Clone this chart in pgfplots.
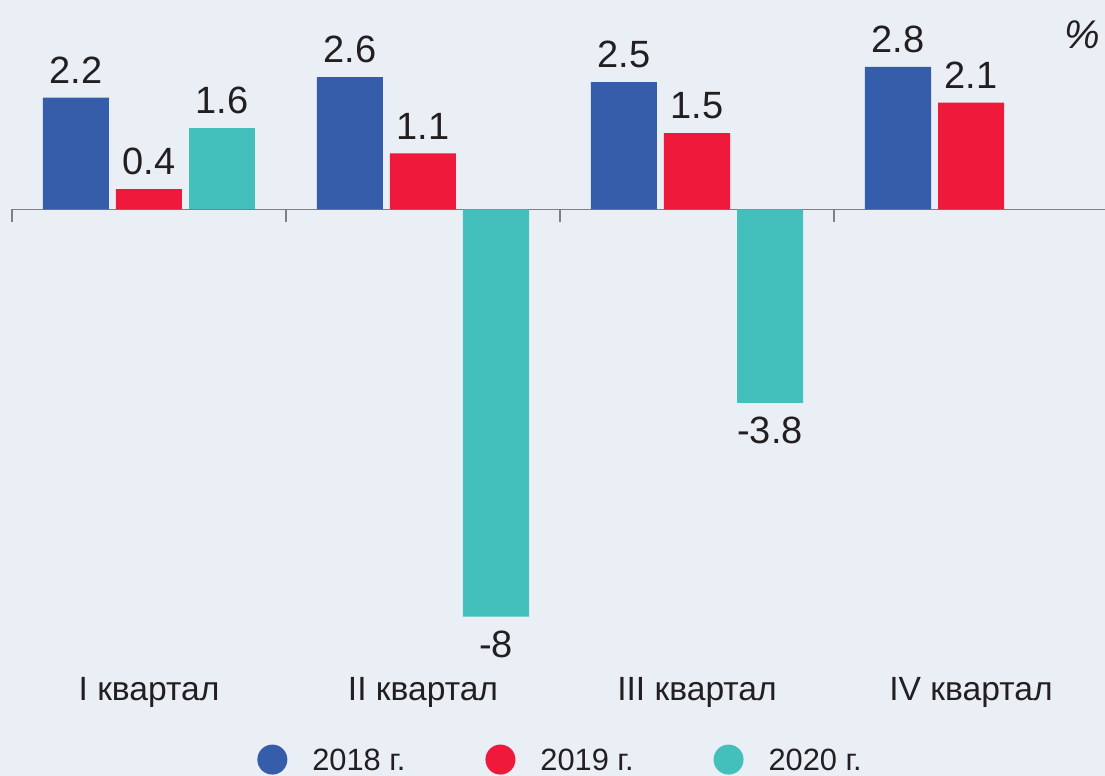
\documentclass[border=0pt]{standalone}
\usepackage{fontspec}
\setmainfont{Liberation Sans}
\usepackage{pgfplots}
\pgfplotsset{compat=1.18}
\definecolor{bg}{HTML}{EAEFF6}
\definecolor{cblue}{HTML}{365DAA}
\definecolor{cred}{HTML}{EF1A3B}
\definecolor{cteal}{HTML}{43C0BC}
\definecolor{txt}{HTML}{231F20}
\definecolor{axgrey}{HTML}{808080}
\begin{document}
\begin{tikzpicture}
\path[use as bounding box, fill=bg] (0,0) rectangle (552.5pt,388pt);
\begin{axis}[
  at={(6pt,54.2pt)}, anchor=south west,
  scale only axis, width=548pt, height=330.85pt,
  xmin=-0.5, xmax=3.5, ymin=-9, ymax=4,
  axis x line=middle, axis y line=none,
  x axis line style={-, draw=axgrey, line width=0.8pt},
  ybar, bar width=33pt,
  xtick={0,1,2,3},
  xticklabels={I квартал, II квартал, III квартал, IV квартал},
  minor xtick={-0.5,0.5,1.5,2.5,3.5},
  major tick length=0pt, minor tick length=6.5pt,
  xtick align=outside,
  every tick/.style={draw=axgrey, line width=0.8pt},
  minor tick style={draw=axgrey, line width=0.8pt},
  xticklabel style={font=\fontsize{16.8}{19}\selectfont, text=txt, anchor=base, yshift=-245.75pt, inner sep=0pt},
  nodes near coords,
  point meta=explicit symbolic,
  every node near coord/.append style={font=\fontsize{19}{22}\selectfont, text=txt, inner sep=7pt},
  legend columns=3,
  legend image code/.code={\fill (0pt,0pt) circle (7.5pt);},
  legend style={draw=none, fill=none, inner sep=0pt, at={(0.2235,-0.1390)}, anchor=west,
    font=\fontsize{15.4}{18}\selectfont, text=txt,
    nodes={inner sep=0pt, text depth=0pt},
    /tikz/every odd column/.append style={column sep=12.5pt},
    /tikz/every even column/.append style={column sep=40pt}},
  clip=false,
]
\addplot[fill=cblue, draw=none, bar shift=-36.5pt] coordinates {(0,2.2) [2.2] (1,2.6) [2.6] (2,2.5) [2.5] (3,2.8) [2.8]};
\addplot[fill=cred, draw=none, bar shift=0pt] coordinates {(0,0.4) [0.4] (1,1.1) [1.1] (2,1.5) [1.5] (3,2.1) [2.1]};
\addplot[fill=cteal, draw=none, bar shift=36.5pt] coordinates {(0,1.6) [1.6]};
\addplot[fill=cteal, draw=none, bar shift=36.5pt, forget plot,
  every node near coord/.append style={anchor=north}] coordinates {(1,-8) [-8] (2,-3.8) [-3.8]};
\legend{2018 г., 2019 г., 2020 г.}
\end{axis}
\node[text=txt, font=\fontsize{20}{24}\selectfont\itshape, anchor=east, inner sep=0pt] at (550pt,370.5pt) {\%};
\end{tikzpicture}
\end{document}
